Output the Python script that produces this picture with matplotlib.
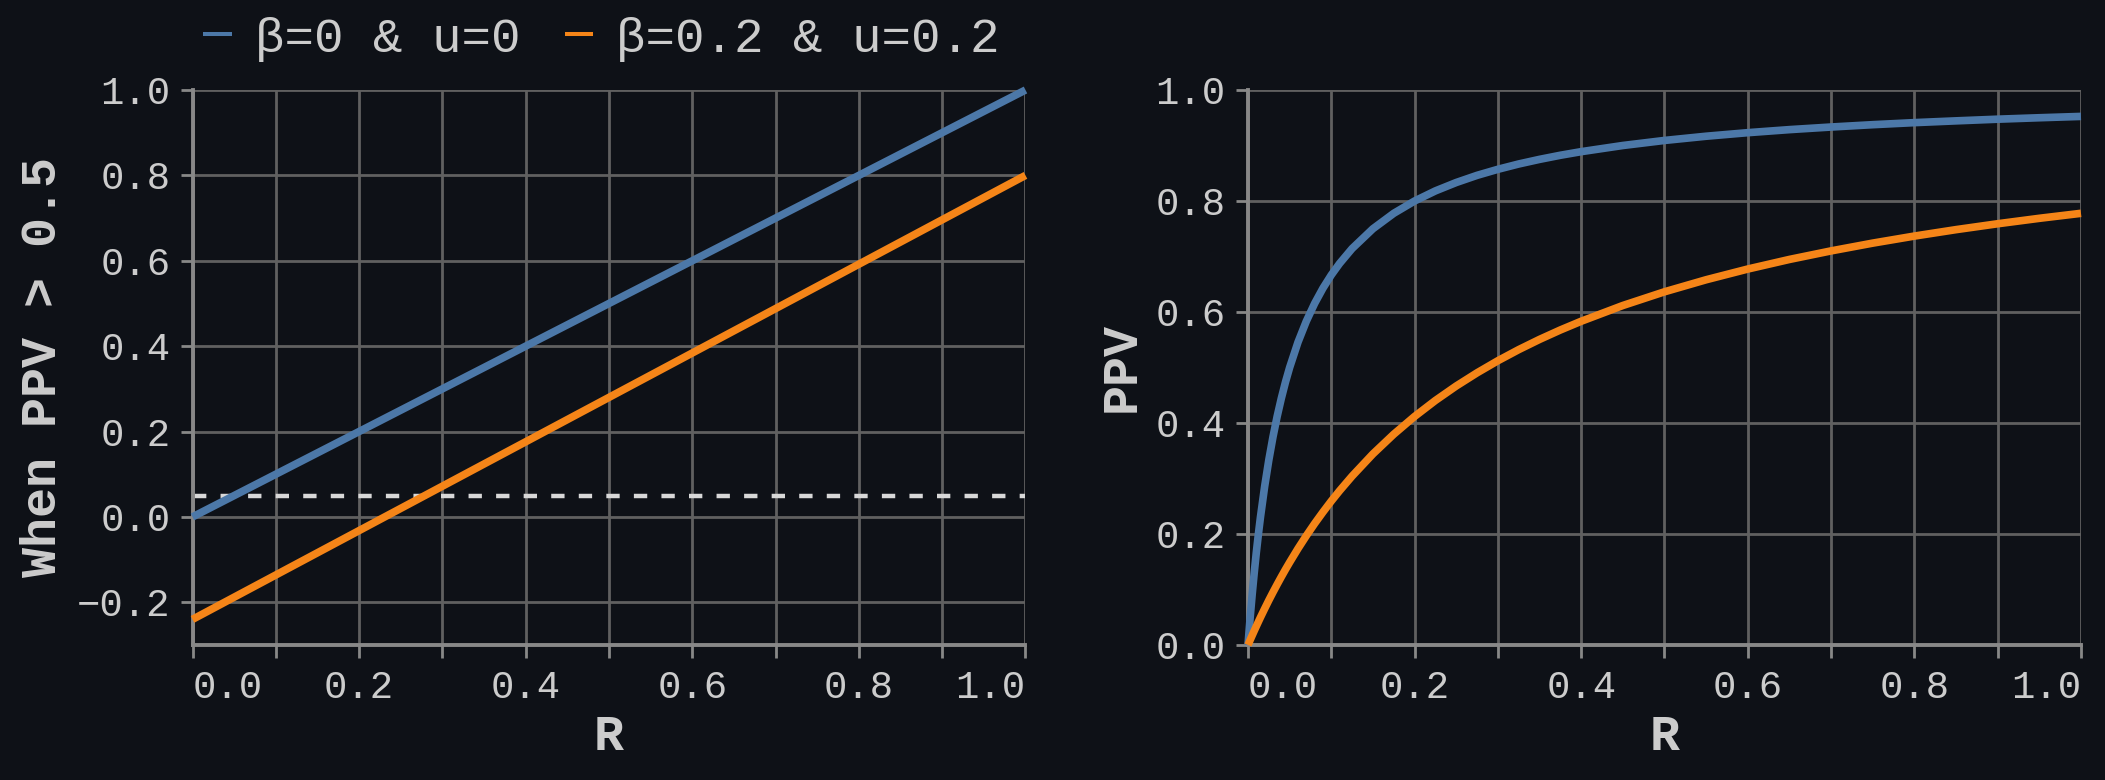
"""Two panel PPV chart on a dark background."""

import matplotlib

matplotlib.use("Agg")
import matplotlib.pyplot as plt
from matplotlib.lines import Line2D
from matplotlib.ticker import FixedLocator

# ---- data ----
series_names = ["β=0 & u=0", "β=0.2 & u=0.2"]

# left panel: straight lines, R -> "When PPV > 0.5"
r_line = [0.0, 1.0]
when_blue = [0.0, 1.0]
when_orange = [-0.24, 0.80]
threshold = 0.05

# right panel: PPV as a function of R
r_curve = [0.0, 0.0025, 0.005, 0.0075, 0.01, 0.0125, 0.015, 0.02, 0.025, 0.03,
           0.035, 0.04, 0.045, 0.05, 0.06, 0.07, 0.08, 0.09, 0.1, 0.11, 0.125,
           0.15, 0.175, 0.2, 0.225, 0.25, 0.275, 0.3, 0.325, 0.35, 0.375, 0.4,
           0.45, 0.5, 0.55, 0.6, 0.65, 0.7, 0.75, 0.8, 0.85, 0.9, 0.95, 1.0]
ppv_blue = [0.0, 0.0476, 0.0909, 0.1304, 0.1667, 0.2, 0.2308, 0.2857, 0.3333,
            0.375, 0.4118, 0.4444, 0.4737, 0.5, 0.5455, 0.5833, 0.6154, 0.6429,
            0.6667, 0.6875, 0.7143, 0.75, 0.7778, 0.8, 0.8182, 0.8333, 0.8462,
            0.8571, 0.8667, 0.875, 0.8824, 0.8889, 0.9, 0.9091, 0.9167, 0.9231,
            0.9286, 0.9333, 0.9375, 0.9412, 0.9444, 0.9474, 0.95, 0.9524]
ppv_orange = [0.0, 0.0087, 0.0172, 0.0256, 0.0338, 0.0419, 0.0499, 0.0654,
              0.0805, 0.095, 0.1091, 0.1228, 0.1361, 0.1489, 0.1736, 0.1968,
              0.2188, 0.2395, 0.2593, 0.278, 0.3043, 0.3443, 0.3798, 0.4118,
              0.4406, 0.4667, 0.4904, 0.5122, 0.5322, 0.5506, 0.5676, 0.5833,
              0.6117, 0.6364, 0.6581, 0.6774, 0.6947, 0.7101, 0.7241, 0.7368,
              0.7484, 0.759, 0.7688, 0.7778]

x_major = [0.0, 0.2, 0.4, 0.6, 0.8, 1.0]
x_minor = [0.1, 0.3, 0.5, 0.7, 0.9]
y_left_ticks = [-0.2, 0.0, 0.2, 0.4, 0.6, 0.8, 1.0]
y_right_ticks = [0.0, 0.2, 0.4, 0.6, 0.8, 1.0]

# ---- style ----
BG = "#0e1117"
BLUE = "#4c78a8"
ORANGE = "#f58518"
GRID = "#606060"
DOMAIN = "#888888"
TEXT = "#cccccc"
FONT = ["Liberation Mono", "DejaVu Sans Mono"]

plt.rcParams["font.family"] = FONT
plt.rcParams["axes.unicode_minus"] = True

fig = plt.figure(figsize=(21.05, 7.8), dpi=100, facecolor=BG)
ax_left = fig.add_axes([0.09145, 0.17308, 0.39572, 0.71154])
ax_right = fig.add_axes([0.59287, 0.17308, 0.39572, 0.71154])


def style_axis(axis, y_ticks, y_lim, y_title, y_title_x):
    axis.set_facecolor(BG)
    axis.set_xlim(0, 1)
    axis.set_ylim(*y_lim)
    axis.xaxis.set_major_locator(FixedLocator(x_major))
    axis.xaxis.set_minor_locator(FixedLocator(x_minor))
    axis.set_xticklabels([f"{v:.1f}" for v in x_major])
    axis.set_yticks(y_ticks)
    axis.set_yticklabels([f"{v:.1f}".replace("-", "\u2212") for v in y_ticks])
    axis.grid(True, which="both", color=GRID, linewidth=2.0, zorder=0)
    axis.set_axisbelow(True)
    for side in ("top", "right"):
        axis.spines[side].set_visible(False)
    for side in ("left", "bottom"):
        axis.spines[side].set_color(DOMAIN)
        axis.spines[side].set_linewidth(2.8)
    axis.tick_params(axis="both", which="both", color=DOMAIN, width=2.0,
                     length=9, labelcolor=TEXT, labelsize=28)
    axis.tick_params(axis="y", pad=7)
    axis.tick_params(axis="x", which="both", pad=9)
    # flush the outer x labels, like the original
    ticks = axis.xaxis.get_major_ticks()
    ticks[0].label1.set_horizontalalignment("left")
    ticks[-1].label1.set_horizontalalignment("right")
    axis.set_xlabel("R", fontsize=36, fontweight="bold", color=TEXT)
    axis.set_ylabel(y_title, fontsize=36, fontweight="bold", color=TEXT)
    axis.xaxis.set_label_coords(0.5, -0.166)
    axis.xaxis.label.set_va("center")
    axis.yaxis.set_label_coords(y_title_x, 0.5)
    axis.yaxis.label.set_va("center")


style_axis(ax_left, y_left_ticks, (-0.3, 1.0), "When PPV > 0.5", -0.1795)
style_axis(ax_right, y_right_ticks, (0.0, 1.0), "PPV", -0.152)

ax_left.plot(r_line, [threshold, threshold], color="#d8d8d8", linewidth=3.2,
             linestyle=(0, (3.0, 3.2)), zorder=2, clip_on=False)
ax_left.plot(r_line, when_blue, color=BLUE, linewidth=5.5, zorder=3,
             clip_on=False, solid_capstyle="butt")
ax_left.plot(r_line, when_orange, color=ORANGE, linewidth=5.5, zorder=3,
             clip_on=False, solid_capstyle="butt")

ax_right.plot(r_curve, ppv_blue, color=BLUE, linewidth=5.5, zorder=3,
              clip_on=False, solid_capstyle="butt")
ax_right.plot(r_curve, ppv_orange, color=ORANGE, linewidth=5.5, zorder=3,
              clip_on=False, solid_capstyle="butt")

handles = [Line2D([], [], color=BLUE, linewidth=2.9, solid_capstyle="butt"),
           Line2D([], [], color=ORANGE, linewidth=2.9, solid_capstyle="butt")]
legend = fig.legend(handles, series_names, loc="center left",
                    bbox_to_anchor=(203 / 2105, 1 - 39 / 780), ncol=2,
                    frameon=False, fontsize=35.5, handlelength=0.58,
                    handletextpad=0.47, columnspacing=0.9, borderpad=0,
                    borderaxespad=0)
for text in legend.get_texts():
    text.set_color(TEXT)

fig.savefig("out.png", dpi=100, facecolor=BG)
